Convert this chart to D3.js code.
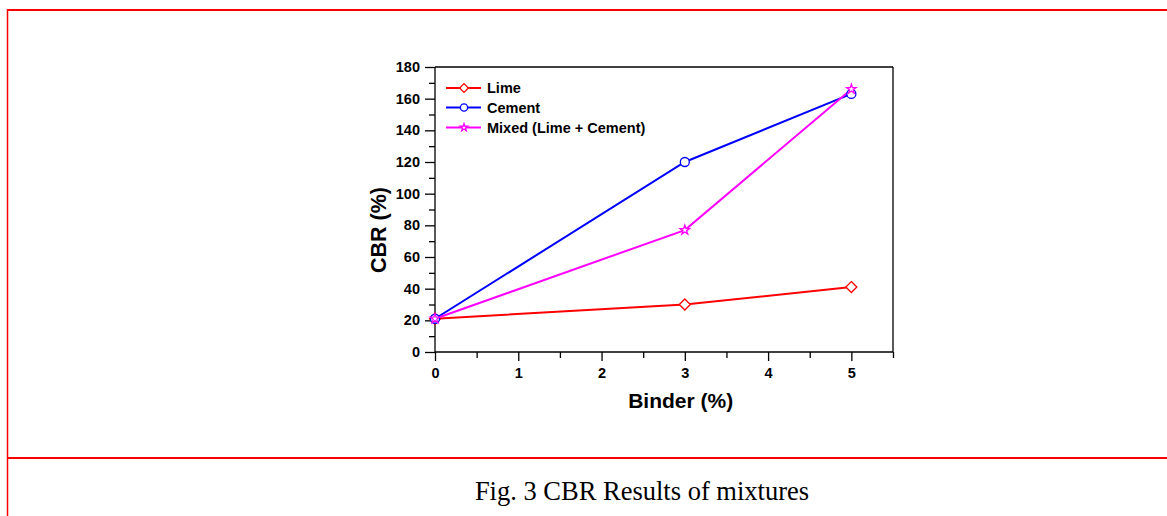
<!DOCTYPE html>
<html>
<head>
<meta charset="utf-8">
<script src="https://d3js.org/d3.v7.min.js"></script>
<style>
body { margin:0; background:#fff; }
svg { display:block; }
</style>
</head>
<body>
<svg id="chart" width="1167" height="516"></svg>
<script>
// Data
const binder = [0, 3, 5];
const limeCBR = [21, 30, 41];
const cementCBR = [21, 120, 163];
const mixedCBR = [21, 77, 166];
const seriesNames = ["Lime", "Cement", "Mixed (Lime + Cement)"];
const seriesColors = ["#ff0000", "#0000ff", "#ff00ff"];
const seriesSymbols = ["diamond", "circle", "star"];
const xTicks = [0, 1, 2, 3, 4, 5];
const yTicks = [0, 20, 40, 60, 80, 100, 120, 140, 160, 180];
const captionText = "Fig. 3 CBR Results of mixtures";

const svg = d3.select("#chart");

// page frame (red lines)
svg.append("line").attr("x1", 7.5).attr("x2", 1167).attr("y1", 10).attr("y2", 10)
  .attr("stroke", "#ff0000").attr("stroke-width", 2);
svg.append("line").attr("x1", 7.5).attr("x2", 7.5).attr("y1", 9).attr("y2", 516)
  .attr("stroke", "#ff0000").attr("stroke-width", 1.5);
svg.append("line").attr("x1", 7.5).attr("x2", 1167).attr("y1", 458).attr("y2", 458)
  .attr("stroke", "#ff0000").attr("stroke-width", 2);

svg.append("text").attr("x", 642).attr("y", 500).attr("text-anchor", "middle")
  .attr("font-family", "'Liberation Serif', 'Times New Roman', serif")
  .attr("font-size", 26.5).attr("fill", "#000").text(captionText);

const pLeft = 435, pRight = 893, pTop = 67, pBottom = 352;
const x = d3.scaleLinear().domain([0, 5.5]).range([pLeft, pRight]);
const y = d3.scaleLinear().domain([0, 180]).range([pBottom, pTop]);

const font = "'Liberation Sans', Arial, sans-serif";

// frame top & right
svg.append("line").attr("x1", pLeft).attr("x2", pRight).attr("y1", pTop).attr("y2", pTop)
  .attr("stroke", "#000").attr("stroke-width", 1.3);
svg.append("line").attr("x1", pRight).attr("x2", pRight).attr("y1", pTop).attr("y2", pBottom)
  .attr("stroke", "#000").attr("stroke-width", 1.3);

// x axis
const gx = svg.append("g").attr("transform", `translate(0,${pBottom})`);
gx.call(d3.axisBottom(x).tickValues(d3.range(0.5, 5.6, 1)).tickSize(6).tickFormat(""));
gx.call(g => g.select(".domain").remove());
const gx2 = svg.append("g").attr("transform", `translate(0,${pBottom})`)
  .call(d3.axisBottom(x).tickValues(xTicks).tickSize(9).tickPadding(7).tickFormat(d3.format("d")));
gx2.select(".domain").attr("d", `M${pLeft},0H${pRight}`);
[gx, gx2].forEach(g => {
  g.selectAll("line").attr("stroke", "#000").attr("stroke-width", 1.3);
  g.selectAll(".domain").attr("stroke", "#000").attr("stroke-width", 1.3);
  g.selectAll("text").attr("font-family", font).attr("font-weight", "bold")
    .attr("font-size", 14.5).attr("fill", "#000");
});

// y axis
const gy = svg.append("g").attr("transform", `translate(${pLeft},0)`);
gy.call(d3.axisLeft(y).tickValues(d3.range(10, 180, 20)).tickSize(6).tickFormat(""));
gy.call(g => g.select(".domain").remove());
const gy2 = svg.append("g").attr("transform", `translate(${pLeft},0)`)
  .call(d3.axisLeft(y).tickValues(yTicks).tickSize(10).tickPadding(5).tickFormat(d3.format("d")));
gy2.select(".domain").attr("d", `M0,${pTop}V${pBottom}`);
[gy, gy2].forEach(g => {
  g.selectAll("line").attr("stroke", "#000").attr("stroke-width", 1.3);
  g.selectAll(".domain").attr("stroke", "#000").attr("stroke-width", 1.3);
  g.selectAll("text").attr("font-family", font).attr("font-weight", "bold")
    .attr("font-size", 14.5).attr("fill", "#000");
});

// axis titles
svg.append("text").attr("x", x(2.95)).attr("y", 408).attr("text-anchor", "middle")
  .attr("font-family", font).attr("font-weight", "bold").attr("font-size", 21)
  .attr("fill", "#000").text("Binder (%)");
svg.append("text").attr("transform", `translate(386,230) rotate(-90)`)
  .attr("text-anchor", "middle")
  .attr("font-family", font).attr("font-weight", "bold").attr("font-size", 21.5)
  .attr("fill", "#000").text("CBR (%)");

// series
const allSeries = [limeCBR, cementCBR, mixedCBR];
function drawSym(g, kind, color, cx, cy, scale) {
  const k = scale || 1;
  if (kind === "diamond") {
    const s = 5.5 * k;
    g.append("path").attr("d", `M${cx},${cy - s}L${cx + s},${cy}L${cx},${cy + s}L${cx - s},${cy}Z`)
      .attr("fill", "#fff").attr("stroke", color).attr("stroke-width", 1.3);
  } else if (kind === "circle") {
    g.append("circle").attr("cx", cx).attr("cy", cy).attr("r", 4.5 * k)
      .attr("fill", "#fff").attr("stroke", color).attr("stroke-width", 1.3);
  } else {
    g.append("path").attr("d", d3.symbol(d3.symbolStar, 28 * k * k)())
      .attr("transform", `translate(${cx},${cy})`)
      .attr("fill", "#fff").attr("stroke", color).attr("stroke-width", 1.3);
  }
}
const line = d3.line().x(d => x(d[0])).y(d => y(d[1]));
const plot = svg.append("g");
allSeries.forEach((vals, i) => {
  const pts = binder.map((b, j) => [b, vals[j]]);
  plot.append("path").datum(pts).attr("d", line).attr("fill", "none")
    .attr("stroke", seriesColors[i]).attr("stroke-width", 2);
});
allSeries.forEach((vals, i) => {
  binder.forEach((b, j) => drawSym(plot, seriesSymbols[i], seriesColors[i], x(b), y(vals[j])));
});

// legend
const legY = [88, 107.5, 127.5];
seriesNames.forEach((name, i) => {
  const g = svg.append("g");
  g.append("line").attr("x1", 446).attr("x2", 481).attr("y1", legY[i]).attr("y2", legY[i])
    .attr("stroke", seriesColors[i]).attr("stroke-width", 2);
  drawSym(g, seriesSymbols[i], seriesColors[i], 464, legY[i], 0.8);
  g.append("text").attr("x", 487).attr("y", legY[i] + 5).attr("font-family", font)
    .attr("font-weight", "bold").attr("font-size", 14.5).attr("fill", "#000").text(name);
});
</script>
</body>
</html>
